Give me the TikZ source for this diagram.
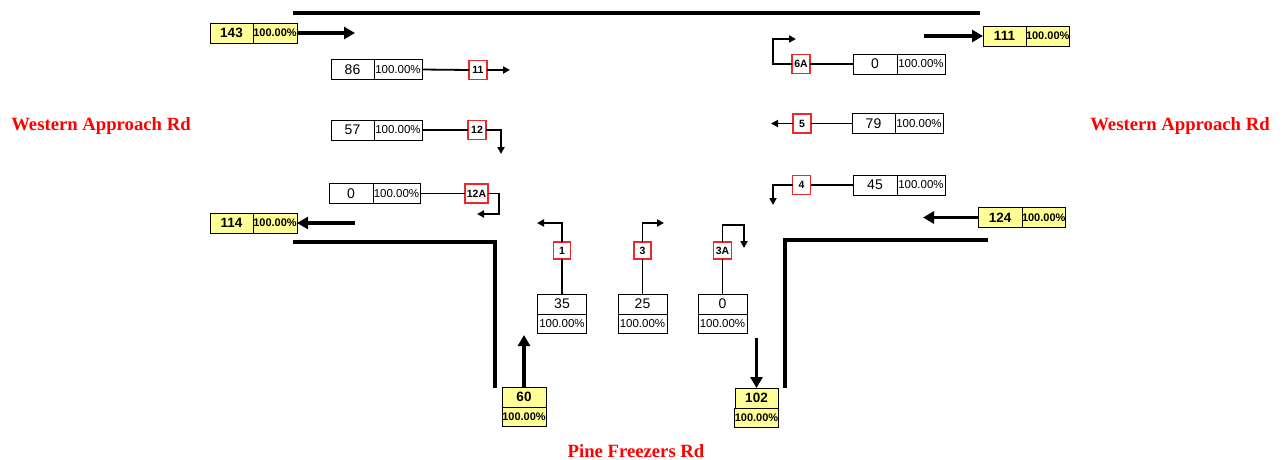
\documentclass[tikz,border=0pt]{standalone}
\usepackage{fontspec}
\setmainfont{Liberation Serif}
\newfontfamily\arial{Liberation Sans}
\usetikzlibrary{arrows.meta}
\definecolor{yel}{RGB}{255,255,150}
\definecolor{rbord}{RGB}{240,40,40}
\begin{document}
\begin{tikzpicture}[x=1pt,y=-1pt,
  bx/.style={draw, line width=0.9pt, inner sep=0pt, outer sep=0pt},
  ynum/.style={bx, fill=yel, minimum height=20pt, font=\arial\bfseries\fontsize{13.5}{13.5}\selectfont},
  ypct/.style={bx, fill=yel, minimum height=20pt, font=\arial\bfseries\fontsize{11}{11}\selectfont},
  wnum/.style={bx, fill=white, minimum height=20pt, font=\arial\fontsize{14}{14}\selectfont},
  wpct/.style={bx, fill=white, minimum height=20pt, font=\arial\fontsize{11.5}{11.5}\selectfont},
  rb/.style={draw=rbord, line width=1.2pt, fill=white, inner sep=0pt, outer sep=0pt, minimum width=18pt, minimum height=19pt, font=\arial\bfseries\fontsize{10.5}{10.5}\selectfont},
  conn/.style={line width=1.8pt},
  sarr/.style={conn, -{Triangle[length=7pt,width=7pt]}},
  barr/.style={line width=3.2pt, -{Triangle[length=11pt,width=12pt]}},
  road/.style={line width=3.8pt},
  lab/.style={text=red, font=\bfseries\fontsize{18.7}{20}\selectfont}
]
\useasboundingbox (0,0) rectangle (1282,459);

% roads
\draw[road] (293,13) -- (980,13);
\draw[road] (293,242) -- (495,242) -- (495,388);
\draw[road] (785,388) -- (785,240) -- (988,240);

% labels
\node[lab] (wl) at (101,126) {Western Approach Rd};
\node[lab] (wr) at (1180,126) {Western Approach Rd};
\node[lab] (pf) at (636,451) {Pine Freezers Rd};

% yellow boxes
\node[ynum, minimum width=43pt] (n143) at (231.5,33) {143};
\node[ypct, minimum width=44pt, anchor=west] (p143) at (n143.east) {100.00\%};
\coordinate (e143) at (355,33);
\draw[barr] (p143.east) -- (e143);

\node[ynum, minimum width=43pt] (n114) at (231.5,223) {114};
\node[ypct, minimum width=44pt, anchor=west] (p114) at (n114.east) {100.00\%};
\coordinate (s114) at (355,223);
\draw[barr] (s114) -- (p114.east);

\node[ynum, minimum width=43pt] (n111) at (1004.5,36) {111};
\node[ypct, minimum width=43pt, anchor=west] (p111) at (n111.east) {100.00\%};
\coordinate (s111) at (924,36);
\draw[barr] (s111) -- (n111.west);

\node[ynum, minimum width=44pt] (n124) at (1000,217.5) {124};
\node[ypct, minimum width=43pt, anchor=west] (p124) at (n124.east) {100.00\%};
\coordinate (e124) at (923,217.5);
\draw[barr] (n124.west) -- (e124);

\node[ynum, minimum width=44pt] (n60) at (524,397) {60};
\node[ypct, minimum width=44pt, minimum height=19pt, anchor=north] (p60) at (n60.south) {100.00\%};
\coordinate (e60) at (524,335);
\draw[barr] (n60.north) -- (e60);

\node[ynum, minimum width=43pt] (n102) at (756.5,398) {102};
\node[ypct, minimum width=43pt, minimum height=19pt, anchor=north] (p102) at (n102.south) {100.00\%};
\coordinate (s102) at (756.5,338);
\draw[barr] (s102) -- (n102.north);

% left approach (west side)
\node[wnum, minimum width=43pt] (n86) at (352.5,69.5) {86};
\node[wpct, minimum width=48pt, anchor=west] (p86) at (n86.east) {100.00\%};
\node[rb] (r11) at (478,70) {11};
\coordinate (e11) at (510,70);
\draw[conn] (p86.east) -- (r11.west);
\draw[sarr] (r11.east) -- (e11);

\node[wnum, minimum width=43pt] (n57) at (352.5,130) {57};
\node[wpct, minimum width=48pt, anchor=west] (p57) at (n57.east) {100.00\%};
\node[rb] (r12) at (477,130) {12};
\coordinate (e12) at (501,154);
\draw[conn] (p57.east) -- (r12.west);
\draw[sarr] (r12.east) -| (e12);

\node[wnum, minimum width=44pt] (n0l) at (351,193.5) {0};
\node[wpct, minimum width=47pt, anchor=west] (p0l) at (n0l.east) {100.00\%};
\node[rb, minimum width=23pt] (r12a) at (476.5,193.5) {12A};
\coordinate (k12a) at (499,193.5);
\coordinate (e12a) at (477,214);
\draw[conn] (p0l.east) -- (r12a.west);
\draw[sarr] (r12a.east) -- (k12a) |- (e12a);

% right approach (east side)
\node[wnum, minimum width=44pt] (n0r) at (875,64) {0};
\node[wpct, minimum width=48pt, anchor=west] (p0r) at (n0r.east) {100.00\%};
\node[rb] (r6a) at (801,64) {6A};
\coordinate (k6a) at (773,39);
\coordinate (e6a) at (796,39);
\draw[conn] (n0r.west) -- (r6a.east);
\draw[sarr] (r6a.west) -| (k6a) -- (e6a);

\node[wnum, minimum width=43pt] (n79) at (873.5,123.5) {79};
\node[wpct, minimum width=48pt, anchor=west] (p79) at (n79.east) {100.00\%};
\node[rb] (r5) at (802,123.5) {5};
\coordinate (e5) at (771,123.5);
\draw[conn] (n79.west) -- (r5.east);
\draw[sarr] (r5.west) -- (e5);

\node[wnum, minimum width=44pt] (n45) at (875,185) {45};
\node[wpct, minimum width=48pt, anchor=west] (p45) at (n45.east) {100.00\%};
\node[rb] (r4) at (801.5,185) {4};
\coordinate (e4) at (773,205);
\draw[conn] (n45.west) -- (r4.east);
\draw[sarr] (r4.west) -| (e4);

% south approach
\node[wnum, minimum width=49pt] (n35) at (562,304) {35};
\node[wpct, minimum width=49pt, minimum height=19pt, anchor=north] (p35) at (n35.south) {100.00\%};
\node[rb, minimum width=17pt, minimum height=17pt] (r1) at (562,250.5) {1};
\coordinate (e1) at (537,223);
\draw[conn] (n35.north) -- (r1.south);
\draw[sarr] (r1.north) |- (e1);

\node[wnum, minimum width=49pt] (n25) at (642.5,304) {25};
\node[wpct, minimum width=49pt, minimum height=19pt, anchor=north] (p25) at (n25.south) {100.00\%};
\node[rb, minimum width=17pt, minimum height=17pt] (r3) at (642.5,250.5) {3};
\coordinate (e3) at (664,223);
\draw[conn] (n25.north) -- (r3.south);
\draw[sarr] (r3.north) |- (e3);

\node[wnum, minimum width=49pt] (n0b) at (722.5,304) {0};
\node[wpct, minimum width=49pt, minimum height=19pt, anchor=north] (p0b) at (n0b.south) {100.00\%};
\node[rb, minimum width=18pt, minimum height=17pt] (r3a) at (722.5,250.5) {3A};
\coordinate (k3a) at (744,225);
\coordinate (e3a) at (744,248);
\draw[conn] (n0b.north) -- (r3a.south);
\draw[sarr] (r3a.north) |- (k3a) -- (e3a);
\end{tikzpicture}
\end{document}
